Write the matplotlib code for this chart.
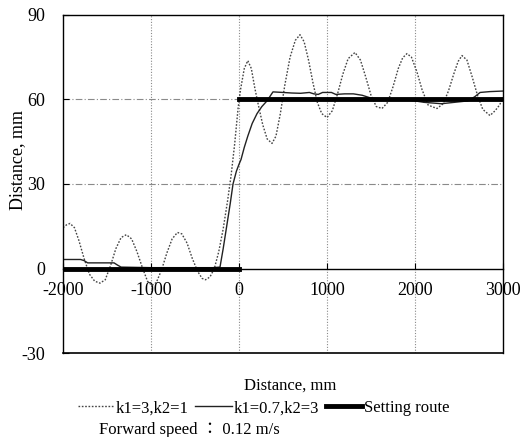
import matplotlib
matplotlib.use('Agg')
import matplotlib.pyplot as plt
import numpy as np

plt.rcParams['font.family'] = ['Liberation Serif', 'Noto Sans CJK JP', 'DejaVu Serif']
plt.rcParams['axes.unicode_minus'] = False

# k1=3, k2=1 (dotted)
x_k1 = [-2000, -1960, -1920, -1870, -1820, -1760, -1700, -1640, -1580, -1520,
        -1460, -1400, -1340, -1280, -1220, -1160, -1100, -1040, -990, -940,
        -880, -820, -760, -700, -650, -590, -530, -470, -420, -380, -330,
        -280, -230, -180, -130, -90, -50, -10, 20, 60, 100, 140, 180, 220,
        270, 320, 375, 420, 470, 520, 580, 640, 693, 740, 790, 840, 890,
        940, 1000, 1060, 1120, 1180, 1240, 1318, 1380, 1440, 1500, 1560,
        1625, 1690, 1750, 1810, 1860, 1909, 1960, 2020, 2080, 2150, 2250,
        2320, 2380, 2440, 2490, 2534, 2590, 2650, 2710, 2770, 2852, 2910,
        2960, 3000]
y_k1 = [14.5, 15.5, 16, 14.5, 10, 3.5, -2, -4.5, -5.2, -4,
        1, 7, 11, 12, 10.5, 6, 0.5, -4.5, -6, -5,
        -0.5, 5.5, 10.5, 12.8, 12.3, 9, 3.5, -1, -3.5, -4, -3,
        0, 6, 14, 24, 33, 44, 57, 64, 71, 73.8, 71, 64, 58,
        51, 46, 44.4, 47, 55, 65, 75, 81, 83, 80.5, 74, 66, 59,
        55, 53.6, 56, 62, 69, 74.5, 76.7, 74, 68, 61.5, 57.5,
        56.8, 59, 64.5, 71, 74.8, 76.3, 75, 70, 63.5, 58, 56.8,
        58.5, 63, 69, 73.5, 75.6, 74, 68, 61.5, 56.5, 54.3, 56,
        58, 60.5]

# k1=0.7, k2=3 (solid)
x_k07 = [-2000, -1800, -1760, -1720, -1600, -1420, -1380, -1340, -1000, -600,
         -300, -216, -180, -140, -100, -68, -30, 0, 23, 60, 100, 150, 205,
         260, 318, 386, 500, 600, 700, 800, 850, 900, 950, 1050, 1100, 1200,
         1300, 1400, 1500, 1600, 1800, 2000, 2100, 2300, 2450, 2600, 2680,
         2740, 2850, 3000]
y_k07 = [3.2, 3.2, 2.8, 2, 2, 2, 1.2, 0.5, 0.3, 0.3,
         0.3, 0.5, 7, 15, 23, 30, 34.5, 37, 38.7, 43, 47, 51.5, 55,
         57.5, 59.5, 62.7, 62.5, 62.3, 62.2, 62.5, 62, 61.8, 62.5, 62.5, 61.8, 62,
         62, 61.5, 60.5, 60.3, 60.2, 59.5, 59, 58.5, 59, 59.5, 61,
         62.5, 62.8, 63]

# setting route
x_route = [-2000, 0, np.nan, 0, 3000]
y_route = [0, 0, np.nan, 60, 60]

xticks = [-2000, -1000, 0, 1000, 2000, 3000]
yticks = [-30, 0, 30, 60, 90]

fig = plt.figure(figsize=(5.22, 4.37), dpi=100)
ax = fig.add_axes([0.1207, 0.1922, 0.8429, 0.7735])

for gx in [-1000, 0, 1000, 2000]:
    ax.axvline(gx, color='#8a8a8a', ls=(0, (1, 1.5)), lw=0.8, zorder=0)
for gy in [30, 60]:
    ax.axhline(gy, color='#8a8a8a', ls=(0, (6, 2, 1, 2)), lw=0.8, zorder=0)

l1, = ax.plot(x_k1, y_k1, color='#444444', ls=(0, (1.2, 1.2)), lw=1.0,
              label='k1=3,k2=1')
l2, = ax.plot(x_k07, y_k07, color='#222222', ls='-', lw=1.0,
              label='k1=0.7,k2=3')
l3, = ax.plot(x_route, y_route, color='black', ls='-', lw=3.5,
              label='Setting route')

ax.set_xlim(-2000, 3000)
ax.set_ylim(-30, 90)
ax.spines['bottom'].set_position(('data', 0))
ax.axhline(-30, color='black', lw=1.2, clip_on=False)
for s in ['left', 'right', 'top', 'bottom']:
    ax.spines[s].set_linewidth(1.0)

ax.set_xticks(xticks)
ax.set_yticks(yticks)
ax.tick_params(axis='x', direction='in', length=4, labelsize=13, pad=10)
ax.tick_params(axis='y', direction='in', length=4, labelsize=13, pad=13)

ax.set_ylabel('Distance, mm', fontsize=13)
ax.yaxis.set_label_coords(-0.085, 0.57)
fig.text(0.555, 0.118, 'Distance, mm', ha='center', va='center', fontsize=12)

fig.legend(handles=[l1, l2, l3], loc='center', bbox_to_anchor=(0.505, 0.066),
           ncol=3, frameon=False, fontsize=12, handlelength=2.2,
           handletextpad=0.1, columnspacing=0.4)
fig.text(0.19, 0.016, 'Forward speed \uff1a 0.12 m/s', ha='left', va='center',
         fontsize=12)

fig.savefig('out.png', dpi=100)
